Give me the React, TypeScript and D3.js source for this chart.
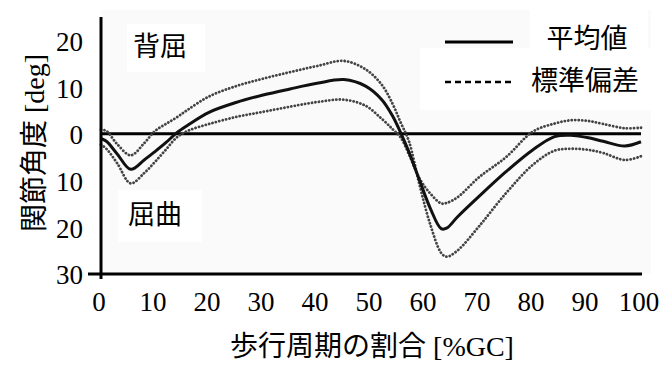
import React from "react";
import * as d3 from "d3";

const pct = [0, 1, 3, 5.5, 8, 10, 12, 14, 16, 20, 25, 30, 35, 40, 45, 49, 52, 54, 55.5, 57, 59, 61, 63, 64, 66, 70, 75, 80, 84, 87, 90, 93, 97, 100];
const meanVals = [-1.0, -1.6, -4.3, -7.6, -5.6, -3.8, -1.9, 0.2, 1.8, 4.6, 6.7, 8.3, 9.6, 10.8, 11.6, 10.2, 7.3, 3.8, 0.2, -3.8, -10.0, -16.0, -20.3, -20.2, -17.8, -13.4, -8.1, -3.4, -0.6, -0.3, -0.8, -1.6, -2.6, -1.7];
const sdA = [0.9, 0.6, -2.2, -4.6, -2.0, 0.6, 2.1, 3.5, 5.1, 8.0, 10.2, 11.8, 13.2, 14.5, 15.6, 13.8, 10.5, 6.4, 2.4, -1.5, -11.0, -19.5, -25.5, -26.3, -25.0, -19.8, -12.7, -6.6, -3.6, -3.2, -3.4, -4.1, -5.6, -4.8];
const sdB = [-2.3, -3.2, -6.3, -10.6, -8.4, -6.0, -3.4, -0.8, 0.6, 2.1, 3.6, 4.7, 5.8, 6.8, 7.3, 6.0, 3.2, 1.0, -0.8, -4.3, -9.6, -12.8, -14.9, -14.8, -13.6, -9.3, -5.0, 0.5, 2.2, 2.9, 2.8, 2.1, 1.2, 1.3];

const xTicks = [0, 10, 20, 30, 40, 50, 60, 70, 80, 90, 100];
const yTicks = [20, 10, 0, -10, -20, -30];

const xTitle = "歩行周期の割合 [%GC]";
const yTitle = "関節角度 [deg]";
const legendLabels = ["平均値", "標準偏差"];
const regionLabels = ["背屈", "屈曲"];

const FONT = "'Liberation Serif', 'Noto Sans CJK JP', serif";

export default function App() {
  const W = 664, H = 365;
  const x = d3.scaleLinear().domain([0, 100]).range([101, 641]);
  const y = d3.scaleLinear().domain([-30, 25]).range([274, 17]);
  const line = (vals: number[]) =>
    d3.line<number>()
      .x((_, i) => x(pct[i]))
      .y((v) => y(v))
      .curve(d3.curveCatmullRom.alpha(0.5))(vals) || "";

  return (
    <svg width={W} height={H} style={{ position: "absolute", left: 0, top: 0, background: "#fff" }} fontFamily={FONT}>
      <rect x={0} y={0} width={W} height={H} fill="#fff" />
      <rect x={x(0)} y={10} width={x(100) - x(0) + 10} height={y(-30) - 10} fill="#fafafa" />
      <rect x={127} y={24} width={78} height={48} fill="#fff" />
      <rect x={118} y={190} width={84} height={52} fill="#fff" />
      <rect x={530} y={10} width={118} height={42} fill="#fff" />
      <rect x={420} y={48} width={236} height={62} fill="#fff" />

      {/* zero line */}
      <line x1={x(0)} x2={x(100)} y1={y(0)} y2={y(0)} stroke="#000" strokeWidth={3} />

      {/* SD curves */}
      <path d={line(sdA)} fill="none" stroke="#444" strokeWidth={2.8} strokeDasharray="0.1 3.4" strokeLinecap="round" />
      <path d={line(sdB)} fill="none" stroke="#444" strokeWidth={2.8} strokeDasharray="0.1 3.4" strokeLinecap="round" />
      {/* mean */}
      <path d={line(meanVals)} fill="none" stroke="#111" strokeWidth={3} strokeLinejoin="round" />

      {/* axes */}
      <line x1={88} x2={x(100) + 1} y1={y(-30)} y2={y(-30)} stroke="#000" strokeWidth={3} />
      <line x1={x(0)} x2={x(0)} y1={y(25)} y2={y(-30) + 5} stroke="#000" strokeWidth={3} />

      {xTicks.map((t) => (
        <text key={t} x={x(t) - 2} y={311} textAnchor="middle" fontSize={27} fill="#000">{t}</text>
      ))}
      {yTicks.map((t) => (
        <text key={t} x={83} y={y(t) + 1} dy="0.35em" textAnchor="end" fontSize={27} fill="#000">{Math.abs(t)}</text>
      ))}

      <text x={372} y={356} textAnchor="middle" fontSize={28} fill="#000">{xTitle}</text>
      <text transform={`translate(44,${143}) rotate(-90)`} textAnchor="middle" fontSize={28} fill="#000">{yTitle}</text>

      <text x={160} y={47} dy="0.35em" textAnchor="middle" fontSize={27} fill="#000">{regionLabels[0]}</text>
      <text x={155} y={215} dy="0.35em" textAnchor="middle" fontSize={27} fill="#000">{regionLabels[1]}</text>

      <line x1={445} x2={513} y1={42} y2={42} stroke="#000" strokeWidth={2.8} />
      <line x1={445} x2={513} y1={82} y2={82} stroke="#000" strokeWidth={2.6} strokeDasharray="6 4" />
      <text x={587} y={39} dy="0.35em" textAnchor="middle" fontSize={27} fill="#000">{legendLabels[0]}</text>
      <text x={585} y={81} dy="0.35em" textAnchor="middle" fontSize={27} fill="#000">{legendLabels[1]}</text>
    </svg>
  );
}
